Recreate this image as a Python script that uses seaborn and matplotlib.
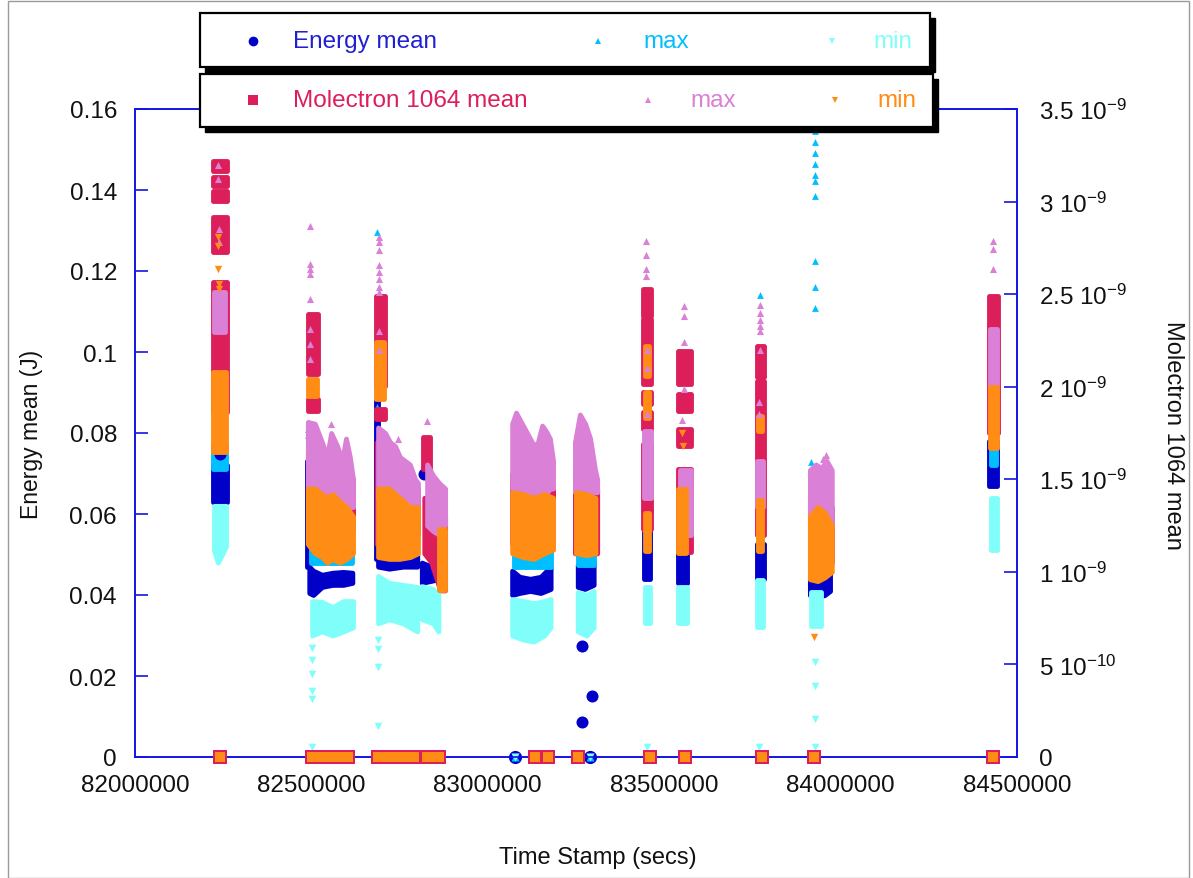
import numpy as np
import pandas as pd
import matplotlib
matplotlib.use("Agg")
import matplotlib.pyplot as plt
from matplotlib.patches import Rectangle
from matplotlib.lines import Line2D
from matplotlib.ticker import MultipleLocator, FuncFormatter
import seaborn as sns

# time stamps are written in millions of seconds (Ms), molectron values in 1e-9
# a "band" is a run of shots read as (times, low, high); points are single shots

# ---- Energy mean (J), left axis
emean_bands = [
    ([82.221, 82.261], [0.063, 0.063], [0.072, 0.072]),
    ([82.494, 82.505, 82.530, 82.560, 82.590, 82.616],
     [0.0405, 0.0400, 0.0420, 0.0425, 0.0425, 0.0430],
     [0.0470, 0.0460, 0.0450, 0.0455, 0.0457, 0.0455]),
    ([82.488, 82.494], [0.047, 0.047], [0.073, 0.073]),
    ([82.689, 82.720, 82.760, 82.800], [0.0470, 0.0465, 0.0470, 0.0470],
     [0.0510, 0.0500, 0.0495, 0.0500]),
    ([82.683, 82.689], [0.049, 0.049], [0.088, 0.088]),
    ([82.813, 82.840, 82.865], [0.043, 0.0435, 0.044], [0.048, 0.047, 0.048]),
    ([83.069, 83.090, 83.120, 83.150, 83.178],
     [0.0400, 0.0405, 0.0410, 0.0405, 0.0415],
     [0.0460, 0.0445, 0.0440, 0.0445, 0.0470]),
    ([83.255, 83.275, 83.300], [0.0420, 0.0415, 0.0425], [0.0475, 0.0460, 0.0480]),
    ([83.443, 83.460], [0.044, 0.044], [0.0556, 0.0556]),
    ([83.540, 83.565], [0.043, 0.043], [0.0506, 0.0506]),
    ([83.763, 83.783], [0.044, 0.044], [0.0526, 0.0526]),
    ([83.765, 83.778], [0.0711, 0.0711], [0.0736, 0.0736]),
    ([83.913, 83.935, 83.955, 83.970], [0.0400, 0.0395, 0.0400, 0.0410],
     [0.0450, 0.0440, 0.0440, 0.0450]),
    ([84.422, 84.442], [0.067, 0.067], [0.078, 0.078]),
]
emean_points = [
    (82.235, 0.0793), (82.240, 0.0748), (82.818, 0.070), (83.452, 0.061),
    (83.267, 0.0274), (83.295, 0.0151), (83.267, 0.0086),
]
emean_zero = [83.077, 83.289]

# ---- Energy max (J)
emax_bands = [
    ([82.221, 82.258], [0.071, 0.071], [0.077, 0.077]),
    ([82.500, 82.530, 82.560, 82.590, 82.615], [0.048] * 5, [0.0515] * 5),
    ([82.692, 82.720, 82.760, 82.790], [0.050, 0.050, 0.0505, 0.051],
     [0.0538, 0.053, 0.0525, 0.052]),
    ([83.075, 83.100, 83.130, 83.160, 83.178], [0.047] * 5, [0.051] * 5),
    ([83.255, 83.300], [0.0475, 0.0475], [0.051, 0.051]),
    ([84.425, 84.440], [0.072, 0.072], [0.080, 0.080]),
]
emax_points = [
    (82.230, 0.081), (82.490, 0.081), (82.490, 0.0795), (82.686, 0.1296),
    (82.686, 0.0865), (83.447, 0.0575), (83.450, 0.0605), (83.542, 0.0515),
    (83.772, 0.114), (83.770, 0.0645), (83.927, 0.1546), (83.927, 0.1519),
    (83.927, 0.1491), (83.927, 0.1464), (83.927, 0.1437), (83.927, 0.1422),
    (83.927, 0.1385), (83.927, 0.1225), (83.927, 0.1160), (83.927, 0.1109),
    (83.915, 0.0728), (84.430, 0.083),
]
emax_zero = [83.077, 83.289]

# ---- Energy min (J)
emin_bands = [
    ([82.224, 82.235, 82.258], [0.051, 0.048, 0.052], [0.062, 0.062, 0.062]),
    ([82.502, 82.530, 82.560, 82.590, 82.618], [0.030, 0.031, 0.030, 0.031, 0.032],
     [0.0385, 0.0383, 0.0370, 0.0385, 0.0385]),
    ([82.689, 82.720, 82.760, 82.800], [0.033, 0.034, 0.033, 0.031],
     [0.0447, 0.0430, 0.0425, 0.0420]),
    ([82.813, 82.845, 82.860], [0.034, 0.033, 0.031], [0.0422, 0.0415, 0.0400]),
    ([83.069, 83.100, 83.130, 83.160, 83.178], [0.030, 0.029, 0.0285, 0.030, 0.032],
     [0.0390, 0.0385, 0.0380, 0.0385, 0.0390]),
    ([83.255, 83.280, 83.300], [0.031, 0.030, 0.032], [0.0407, 0.0400, 0.0410]),
    ([83.445, 83.460], [0.033, 0.033], [0.042, 0.042]),
    ([83.540, 83.565], [0.033, 0.033], [0.042, 0.042]),
    ([83.763, 83.780], [0.032, 0.032], [0.0437, 0.0437]),
    ([83.915, 83.945], [0.0323, 0.0323], [0.0407, 0.0407]),
    ([84.425, 84.443], [0.051, 0.051], [0.064, 0.064]),
]
emin_points = [
    (82.502, 0.0270), (82.502, 0.0240), (82.502, 0.0205), (82.502, 0.0163),
    (82.502, 0.0143), (82.502, 0.0025), (82.689, 0.0290), (82.689, 0.0267),
    (82.689, 0.0222), (82.689, 0.0077), (83.927, 0.0235), (83.927, 0.0175),
    (83.927, 0.0094), (83.927, 0.0025), (83.450, 0.0025), (83.770, 0.0025),
]
emin_zero = [83.077, 83.289]

# ---- Molectron 1064 mean (1e-9), right axis
mmean_bands = [
    ([82.221, 82.261], [3.165, 3.165], [3.219, 3.219]),
    ([82.221, 82.261], [3.084, 3.084], [3.133, 3.133]),
    ([82.221, 82.261], [3.003, 3.003], [3.057, 3.057]),
    ([82.221, 82.261], [2.728, 2.728], [2.917, 2.917]),
    ([82.221, 82.261], [1.863, 1.863], [2.566, 2.566]),
    ([82.490, 82.520], [2.070, 2.070], [2.393, 2.393]),
    ([82.490, 82.520], [1.869, 1.869], [1.934, 1.934]),
    ([82.490, 82.520, 82.550, 82.580, 82.618], [1.20, 1.20, 1.25, 1.25, 1.22],
     [1.65, 1.62, 1.58, 1.55, 1.50]),
    ([82.683, 82.710], [2.004, 2.004], [2.490, 2.490]),
    ([82.683, 82.710], [1.826, 1.826], [1.880, 1.880]),
    ([82.685, 82.720, 82.760, 82.802], [1.15, 1.18, 1.15, 1.20], [1.70, 1.60, 1.50, 1.45]),
    ([82.815, 82.835], [1.556, 1.556], [1.728, 1.728]),
    ([82.820, 82.840, 82.865, 82.879], [1.10, 1.05, 0.90, 0.90], [1.40, 1.40, 1.35, 1.30]),
    ([83.069, 83.100, 83.130, 83.160, 83.185], [1.15] * 5, [1.53, 1.50, 1.50, 1.55, 1.55]),
    ([83.247, 83.280, 83.310], [1.10] * 3, [1.55, 1.50, 1.45]),
    ([83.440, 83.462], [2.382, 2.382], [2.528, 2.528]),
    ([83.440, 83.462], [2.015, 2.015], [2.366, 2.366]),
    ([83.440, 83.462], [1.907, 1.907], [1.972, 1.972]),
    ([83.440, 83.462], [1.772, 1.772], [1.863, 1.863]),
    ([83.440, 83.462], [1.231, 1.231], [1.691, 1.691]),
    ([83.538, 83.575], [2.015, 2.015], [2.193, 2.193]),
    ([83.538, 83.575], [1.869, 1.869], [1.961, 1.961]),
    ([83.538, 83.575], [1.680, 1.680], [1.772, 1.772]),
    ([83.538, 83.575], [1.107, 1.107], [1.556, 1.556]),
    ([83.763, 83.783], [2.05, 2.05], [2.22, 2.22]),
    ([83.763, 83.783], [1.20, 1.20], [2.03, 2.03]),
    ([83.913, 83.935, 83.955, 83.975], [1.00, 0.98, 1.00, 1.05], [1.42, 1.45, 1.45, 1.35]),
    ([84.420, 84.445], [1.75, 1.75], [2.49, 2.49]),
]
mmean_zero = [82.241, 82.503, 82.518, 82.533, 82.548, 82.563, 82.578, 82.593, 82.605,
              82.689, 82.704, 82.719, 82.734, 82.749, 82.764, 82.779, 82.792,
              82.828, 82.845, 82.862, 83.134, 83.171, 83.256,
              83.460, 83.559, 83.777, 83.925, 84.432]

# ---- Molectron max (1e-9)
mmax_bands = [
    ([82.225, 82.255], [2.296, 2.296], [2.512, 2.512]),
    ([82.490, 82.510, 82.530, 82.544, 82.556, 82.573, 82.587, 82.598, 82.609, 82.618],
     [1.42, 1.42, 1.38, 1.35, 1.32, 1.32, 1.30, 1.32, 1.35, 1.35],
     [1.81, 1.80, 1.70, 1.62, 1.75, 1.68, 1.60, 1.72, 1.62, 1.50]),
    ([82.689, 82.709, 82.723, 82.737, 82.751, 82.765, 82.779, 82.794, 82.802],
     [1.40, 1.40, 1.38, 1.36, 1.36, 1.34, 1.32, 1.30, 1.30],
     [1.78, 1.75, 1.70, 1.68, 1.62, 1.60, 1.58, 1.50, 1.48]),
    ([82.828, 82.845, 82.862, 82.879], [1.25, 1.22, 1.20, 1.25], [1.58, 1.52, 1.48, 1.45]),
    ([83.069, 83.080, 83.097, 83.114, 83.131, 83.142, 83.154, 83.165, 83.176, 83.185],
     [1.45, 1.42, 1.40, 1.40, 1.40, 1.42, 1.40, 1.42, 1.45, 1.45],
     [1.80, 1.86, 1.80, 1.74, 1.68, 1.70, 1.79, 1.76, 1.72, 1.60]),
    ([83.247, 83.261, 83.276, 83.290, 83.304, 83.310], [1.43] * 6,
     [1.70, 1.85, 1.80, 1.72, 1.55, 1.50]),
    ([83.443, 83.462], [1.40, 1.40], [1.76, 1.76]),
    ([83.545, 83.575], [1.20, 1.20], [1.55, 1.55]),
    ([83.763, 83.780], [1.35, 1.35], [1.60, 1.60]),
    ([83.913, 83.930, 83.945, 83.960, 83.975], [1.30, 1.28, 1.20, 1.20, 1.25],
     [1.55, 1.58, 1.56, 1.60, 1.55]),
    ([84.423, 84.443], [1.99, 1.99], [2.31, 2.31]),
]
mmax_points = [
    (82.235, 3.392), (82.235, 3.20), (82.235, 3.12), (82.238, 2.85), (82.238, 2.78),
    (82.497, 2.868), (82.497, 2.663), (82.497, 2.636), (82.497, 2.609), (82.497, 2.474),
    (82.497, 2.31), (82.497, 2.23), (82.497, 2.15), (82.556, 1.80),
    (82.692, 2.81), (82.692, 2.78), (82.692, 2.74), (82.692, 2.66), (82.692, 2.62),
    (82.692, 2.58), (82.692, 2.54), (82.692, 2.51), (82.692, 2.30), (82.692, 2.20),
    (82.745, 1.72), (82.828, 1.815),
    (83.448, 2.787), (83.448, 2.711), (83.448, 2.636), (83.448, 2.60), (83.450, 2.20),
    (83.452, 2.10), (83.450, 1.85),
    (83.555, 2.436), (83.555, 2.382), (83.555, 2.242), (83.555, 1.988), (83.550, 1.82),
    (83.772, 2.44), (83.772, 2.40), (83.772, 2.36), (83.772, 2.33), (83.772, 2.30),
    (83.772, 2.20), (83.770, 1.92), (83.770, 1.85),
    (83.960, 1.63), (83.950, 1.61),
    (84.432, 2.787), (84.432, 2.744), (84.432, 2.636),
]

# ---- Molectron min (1e-9)
mmin_bands = [
    ([82.221, 82.258], [1.65, 1.65], [2.08, 2.08]),
    ([82.490, 82.515], [1.95, 1.95], [2.04, 2.04]),
    ([82.490, 82.510, 82.530, 82.545, 82.560, 82.580, 82.600, 82.618],
     [1.15, 1.10, 1.08, 1.05, 1.07, 1.05, 1.07, 1.10],
     [1.45, 1.45, 1.42, 1.40, 1.42, 1.38, 1.35, 1.30]),
    ([82.683, 82.705], [1.934, 1.934], [2.242, 2.242]),
    ([82.689, 82.720, 82.750, 82.780, 82.802], [1.08, 1.07, 1.07, 1.08, 1.10],
     [1.45, 1.45, 1.40, 1.35, 1.35]),
    ([82.862, 82.879], [0.90, 0.90], [1.23, 1.23]),
    ([83.069, 83.100, 83.130, 83.160, 83.185], [1.10, 1.08, 1.07, 1.10, 1.12],
     [1.43, 1.42, 1.40, 1.42, 1.40]),
    ([83.250, 83.280, 83.305], [1.10, 1.09, 1.10], [1.43, 1.42, 1.40]),
    ([83.445, 83.458], [2.06, 2.06], [2.22, 2.22]),
    ([83.445, 83.458], [1.83, 1.83], [1.97, 1.97]),
    ([83.445, 83.458], [1.11, 1.11], [1.32, 1.32]),
    ([83.540, 83.562], [1.10, 1.10], [1.45, 1.45]),
    ([83.765, 83.778], [1.76, 1.76], [1.84, 1.84]),
    ([83.765, 83.778], [1.11, 1.11], [1.39, 1.39]),
    ([83.913, 83.935, 83.955, 83.975], [0.96, 0.95, 0.97, 1.00], [1.30, 1.35, 1.32, 1.25]),
    ([84.423, 84.443], [1.67, 1.67], [2.00, 2.00]),
]
mmin_points = [
    (82.235, 2.81), (82.235, 2.76), (82.235, 2.636), (82.238, 2.555), (82.238, 2.528),
    (83.550, 1.75), (83.552, 1.68), (83.925, 0.648),
]
mmin_zero = mmean_zero

X_TICKS = [82000000, 82500000, 83000000, 83500000, 84000000, 84500000]

# colours
BLUE_AXIS = "#1414E6"
C_EMEAN = "#0000C8"
C_EMAX = "#00BFFF"
C_EMIN = "#80FFFA"
C_MMEAN = "#DC1E5A"
C_MMAX = "#DA80D6"
C_MMIN = "#FF8C14"

sns.set_style("white")
plt.rcParams["font.family"] = ["Liberation Sans", "DejaVu Sans"]
plt.rcParams["mathtext.fontset"] = "custom"
plt.rcParams["mathtext.rm"] = "Liberation Sans"
plt.rcParams["mathtext.it"] = "Liberation Sans:italic"
plt.rcParams["mathtext.bf"] = "Liberation Sans:bold"

W, H = 1193, 879
fig = plt.figure(figsize=(W / 100, H / 100), dpi=100)
ax = fig.add_axes([135 / W, 1 - 758 / H, 882 / W, 648 / H])
ax2 = ax.twinx()


def draw_bands(axis, bands, color, scale=1.0):
    for t, lo, hi in bands:
        axis.fill_between(np.array(t) * 1e6, np.array(lo) * scale, np.array(hi) * scale,
                          color=color, lw=3.5, zorder=1)


def draw_points(axis, pts, color, marker, size, scale=1.0, zorder=2):
    if not pts:
        return
    df = pd.DataFrame(pts, columns=["t", "v"])
    df["t"] = df["t"] * 1e6
    df["v"] = df["v"] * scale
    sns.scatterplot(data=df, x="t", y="v", ax=axis, color=color, marker=marker,
                    s=size, linewidth=0, legend=False, clip_on=False, zorder=zorder)


# energy series on the left axis
draw_bands(ax, emean_bands, C_EMEAN)
draw_points(ax, emean_points, C_EMEAN, "o", 75)
draw_points(ax, [(t, 0.0) for t in emean_zero], C_EMEAN, "o", 90, zorder=4)
draw_bands(ax, emax_bands, C_EMAX)
draw_points(ax, emax_points, C_EMAX, "^", 24)
draw_points(ax, [(t, 0.0) for t in emax_zero], C_EMAX, "^", 34, zorder=4)
draw_bands(ax, emin_bands, C_EMIN)
draw_points(ax, emin_points, C_EMIN, "v", 30)
draw_points(ax, [(t, 0.0) for t in emin_zero], C_EMIN, "v", 34, zorder=4)

# molectron series on the right axis
draw_bands(ax2, mmean_bands, C_MMEAN, 1e-9)
draw_points(ax2, [(t, 0.0) for t in mmean_zero], C_MMEAN, "s", 110, 1e-9, zorder=4)
draw_bands(ax2, mmax_bands, C_MMAX, 1e-9)
draw_points(ax2, mmax_points, C_MMAX, "^", 26, 1e-9)
draw_bands(ax2, mmin_bands, C_MMIN, 1e-9)
draw_points(ax2, mmin_points, C_MMIN, "v", 28, 1e-9)
# zero-valued min shots fill the inside of the zero-valued mean squares
draw_points(ax2, [(t, 0.0) for t in mmin_zero], C_MMIN, "s", 45, 1e-9, zorder=5)

# axes
ax.set_xlim(82000000, 84500000)
ax.set_ylim(0, 0.16)
ax.set_xticks(X_TICKS)
ax.xaxis.set_major_formatter(FuncFormatter(lambda v, p: f"{v:.0f}"))
ax.yaxis.set_major_locator(MultipleLocator(0.02))
ax.yaxis.set_major_formatter(FuncFormatter(lambda v, p: f"{v:g}"))
ax2.set_yticks([i * 5e-10 for i in range(8)])


def sci_label(v, pos):
    if v < 1e-20:
        return "0"
    exp = int(np.floor(np.log10(v) + 1e-9))
    mant = v / 10 ** exp
    return f"{mant:g} 10$^{{{exp}}}$"


ax2.yaxis.set_major_formatter(FuncFormatter(sci_label))
ax2.set_ylim(0, 3.5e-9)

for a in (ax, ax2):
    for sp in a.spines.values():
        sp.set_color(BLUE_AXIS)
        sp.set_linewidth(1.2)
    a.set_xlabel("")
    a.set_ylabel("")

ax.tick_params(axis="x", direction="in", length=9.5, width=1.2, color=BLUE_AXIS,
               labelsize=17.5, labelcolor="#111111", pad=12)
ax.tick_params(axis="y", direction="in", length=9.5, width=1.2, color=BLUE_AXIS,
               labelsize=17.5, labelcolor="#111111", pad=13)
ax2.tick_params(axis="y", direction="in", length=9.5, width=1.2, color=BLUE_AXIS,
                labelsize=17.5, labelcolor="#111111", pad=16)

fig.text(32 / W, 1 - 434 / H, "Energy mean (J)", rotation=90, ha="center",
         va="center", fontsize=16.5, color="#111111")
fig.text(598 / W, 1 - 858 / H, "Time Stamp (secs)", ha="center", va="center",
         fontsize=17, color="#111111")
fig.text(1173 / W, 1 - 435 / H, "Molectron 1064 mean", rotation=-90, ha="center",
         va="center", fontsize=17, color="#111111")


# legend boxes with drop shadow
def legend_box(x0, top, x1, bottom):
    fig.add_artist(Rectangle(((x0 + 5) / W, 1 - (bottom + 5) / H), (x1 - x0) / W,
                             (bottom - top) / H, transform=fig.transFigure,
                             facecolor="black", edgecolor="black", zorder=5))
    fig.add_artist(Rectangle((x0 / W, 1 - bottom / H), (x1 - x0) / W, (bottom - top) / H,
                             transform=fig.transFigure, facecolor="white",
                             edgecolor="black", lw=1.6, zorder=6))


def legend_mark(x, y, marker, color, size):
    fig.add_artist(Line2D([x / W], [1 - y / H], marker=marker, color=color, ms=size,
                          mew=0, linestyle="none", transform=fig.transFigure, zorder=7))


def legend_text(x, y, s, color):
    fig.text(x / W, 1 - y / H, s, ha="left", va="center", fontsize=17.5, color=color,
             zorder=7)


legend_box(200, 14, 930, 68)
legend_mark(253, 42, "o", C_EMEAN, 7)
legend_text(293, 42, "Energy mean", "#2020D0")
legend_mark(598, 42, "^", C_EMAX, 4.5)
legend_text(643, 42, "max", C_EMAX)
legend_mark(832, 42, "v", C_EMIN, 4.5)
legend_text(873, 42, "min", C_EMIN)

legend_box(200, 75, 933, 128)
legend_mark(253, 101, "s", C_MMEAN, 6.5)
legend_text(293, 101, "Molectron 1064 mean", C_MMEAN)
legend_mark(648, 101, "^", C_MMAX, 4.5)
legend_text(690, 101, "max", C_MMAX)
legend_mark(835, 101, "v", C_MMIN, 4.5)
legend_text(877, 101, "min", C_MMIN)

# thin page frame
fig.add_artist(Rectangle((8 / W, 0), 1181 / W, 1 - 2 / H, transform=fig.transFigure,
                         facecolor="none", edgecolor="#9a9a9a", lw=1.0, zorder=0))

fig.savefig("out.png", dpi=100)
